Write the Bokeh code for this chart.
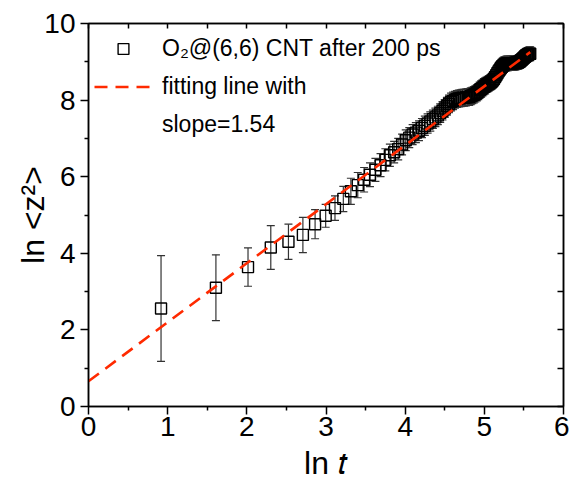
from bokeh.plotting import figure
from bokeh.models import (ColumnDataSource, Whisker, TeeHead, LinearAxis, FixedTicker,
                          Legend, LegendItem, Range1d)
from bokeh.embed import file_html
from bokeh.resources import INLINE
import numpy as np

# time (ps) of each averaged point
times = [2.5, 5, 7.5, 10, 12.5, 15, 17.5, 20, 22.5, 25, 27.5, 30, 32.5, 35, 37.5, 40,
         42.5, 45, 47.5, 50, 52.5, 55, 57.5, 60, 62.5, 65, 67.5, 70, 72.5, 75, 77.5, 80,
         82.5, 85, 87.5, 90, 92.5, 95, 97.5, 100, 102.5, 105, 107.5, 110, 112.5, 115,
         117.5, 120, 122.5, 125, 127.5, 130, 132.5, 135, 137.5, 140, 142.5, 145, 147.5,
         150, 152.5, 155, 157.5, 160, 162.5, 165, 167.5, 170, 172.5, 175, 177.5, 180,
         182.5, 185, 187.5, 190, 192.5, 195, 197.5, 200, 202.5, 205, 207.5, 210, 212.5,
         215, 217.5, 220, 222.5, 225, 227.5, 230, 232.5, 235, 237.5, 240, 242.5, 245,
         247.5, 250, 252.5, 255, 257.5, 260, 262.5, 265]

# ln <z^2>
ln_z2 = [2.56, 3.10, 3.64, 4.15, 4.30, 4.48, 4.76, 4.98, 5.18, 5.42, 5.62, 5.78, 5.92, 6.05,
         6.18, 6.30, 6.44, 6.56, 6.64, 6.72, 6.84, 6.95, 7.02, 7.10, 7.15, 7.20, 7.27, 7.33,
         7.39, 7.44, 7.50, 7.55, 7.60, 7.66, 7.72, 7.78, 7.84, 7.90, 7.95, 7.98, 8.01, 8.03,
         8.04, 8.05, 8.06, 8.06, 8.07, 8.08, 8.08, 8.10, 8.12, 8.14, 8.16, 8.19, 8.22, 8.26,
         8.29, 8.32, 8.35, 8.37, 8.40, 8.42, 8.44, 8.46, 8.48, 8.51, 8.55, 8.60, 8.65, 8.70,
         8.75, 8.79, 8.83, 8.87, 8.90, 8.92, 8.94, 8.95, 8.96, 8.96, 8.96, 8.96, 8.96, 8.96,
         8.96, 8.96, 8.97, 8.97, 8.98, 8.98, 8.99, 9.00, 9.01, 9.03, 9.05, 9.07, 9.09, 9.11,
         9.13, 9.15, 9.17, 9.18, 9.19, 9.20, 9.21, 9.21]

# error (half height of error bar)
err = [1.38, 0.86, 0.50, 0.57, 0.46, 0.46, 0.38, 0.30, 0.32, 0.33, 0.34, 0.33, 0.32, 0.31,
       0.30, 0.30, 0.29, 0.29, 0.28, 0.28, 0.27, 0.27, 0.26, 0.26, 0.26, 0.26, 0.25, 0.25,
       0.25, 0.25, 0.24, 0.24, 0.24, 0.24, 0.24, 0.23, 0.23, 0.23, 0.23, 0.23, 0.22, 0.22,
       0.22, 0.22, 0.22, 0.22, 0.22, 0.22, 0.22, 0.22, 0.21, 0.21, 0.21, 0.21, 0.21, 0.21,
       0.21, 0.21, 0.21, 0.21, 0.20, 0.20, 0.20, 0.20, 0.20, 0.20, 0.20, 0.20, 0.20, 0.20,
       0.20, 0.20, 0.20, 0.20, 0.20, 0.20, 0.19, 0.19, 0.19, 0.19, 0.18, 0.18, 0.18, 0.18,
       0.18, 0.18, 0.18, 0.18, 0.18, 0.18, 0.18, 0.18, 0.18, 0.18, 0.18, 0.18, 0.18, 0.18,
       0.18, 0.18, 0.18, 0.18, 0.18, 0.18, 0.18, 0.18]

fit_slope = 1.54
fit_intercept = 0.66
fit_x = [0.0, 5.58]

x_ticks = [0, 1, 2, 3, 4, 5, 6]
x_minor = [0.5, 1.5, 2.5, 3.5, 4.5, 5.5]
y_ticks = [0, 2, 4, 6, 8, 10]
y_minor = [1, 3, 5, 7, 9]
top_ticks = [0, 0.5, 1, 1.5, 2, 2.5, 3, 3.5, 4, 4.5, 5, 5.5, 6]
right_ticks = [0, 1, 2, 3, 4, 5, 6, 7, 8, 9, 10]

FONT = "Liberation Sans"

lnt = np.log(np.array(times))
z = np.array(ln_z2)
e = np.array(err)
src = ColumnDataSource(dict(x=lnt, y=z, up=z + e, lo=z - e))

p = figure(width=569, height=486, output_backend="svg", toolbar_location=None,
           x_range=Range1d(0, 6), y_range=Range1d(0, 10),
           min_border_left=88, min_border_right=6, min_border_top=23, min_border_bottom=80)
p.background_fill_color = "white"
p.border_fill_color = "white"
p.outline_line_color = "black"
p.outline_line_width = 1.5
p.grid.visible = False

# axes
xa = p.xaxis[0]
xa.ticker = FixedTicker(ticks=x_ticks, minor_ticks=x_minor)
ya = p.yaxis[0]
ya.ticker = FixedTicker(ticks=y_ticks, minor_ticks=y_minor)
for ax in (xa, ya):
    ax.major_tick_in = 0
    ax.major_tick_out = 8
    ax.minor_tick_in = 0
    ax.minor_tick_out = 4
    ax.axis_line_width = 1.5
    ax.major_tick_line_width = 1.5
    ax.minor_tick_line_width = 1.5
    ax.major_label_text_font = FONT
    ax.major_label_text_font_size = "28px"
    ax.major_label_text_color = "black"
    ax.axis_label_text_font = FONT
    ax.axis_label_text_font_size = "32px"
    ax.axis_label_text_font_style = "normal"
    ax.axis_label_text_color = "black"
xa.major_label_standoff = 2
ya.major_label_standoff = 5
xa.axis_label = "ln 𝑡"
xa.axis_label_standoff = 6
ya.axis_label = "ln <z²>"
ya.axis_label_standoff = -10

ra = LinearAxis(ticker=FixedTicker(ticks=right_ticks), major_tick_in=6, major_tick_out=0,
                minor_tick_in=0, minor_tick_out=0,
                major_label_overrides={t: "" for t in right_ticks},
                major_label_standoff=0, axis_line_width=1.5, major_tick_line_width=1.5)
ta = LinearAxis(ticker=FixedTicker(ticks=top_ticks),
                major_tick_in=5, major_tick_out=0, minor_tick_in=0, minor_tick_out=0,
                major_label_overrides={t: "" for t in top_ticks}, major_label_standoff=0,
                axis_line_width=1.5, major_tick_line_width=1.5)
p.add_layout(ra, "right")
p.add_layout(ta, "above")

# error bars
wk = Whisker(source=src, base="x", upper="up", lower="lo", dimension="height",
             line_color="#333333", line_width=1.2,
             upper_head=TeeHead(size=8, line_color="#333333", line_width=1.2),
             lower_head=TeeHead(size=8, line_color="#333333", line_width=1.2))
p.add_layout(wk)

sq = p.scatter("x", "y", source=src, marker="square", size=11, fill_alpha=0,
               line_color="black", line_width=1.4)

fx = np.array(fit_x)
fl = p.line(fx, fit_intercept + fit_slope * fx, line_color="#ff2a00", line_width=2.6,
            line_dash="13 8")
dummy = p.line([0, 0], [0, 0], line_alpha=0)

leg = Legend(items=[LegendItem(label="O₂@(6,6) CNT after 200 ps", renderers=[sq]),
                    LegendItem(label="fitting line with", renderers=[fl]),
                    LegendItem(label="slope=1.54", renderers=[dummy])],
             location="top_left", margin=6, padding=0, spacing=0,
             glyph_width=58, glyph_height=27, label_height=38, label_standoff=10,
             label_text_font=FONT, label_text_font_size="23px", label_text_color="black",
             background_fill_alpha=0, border_line_alpha=0)
p.add_layout(leg)

open("out.html", "w").write(file_html(p, INLINE))
